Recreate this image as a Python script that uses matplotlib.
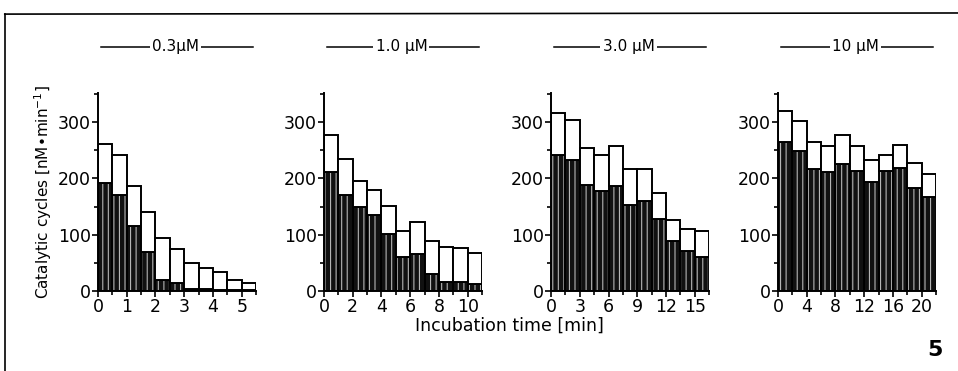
import numpy as np
import matplotlib.pyplot as plt
from matplotlib.lines import Line2D
from matplotlib.ticker import MultipleLocator

plt.rcParams["font.family"] = ["DejaVu Sans"]
plt.rcParams["hatch.linewidth"] = 0.8

# ---------------------------------------------------------------------------
# Data (catalytic cycles, nM/min)
# ---------------------------------------------------------------------------
conc_labels = ["0.3µM", "1.0 µM", "3.0 µM", "10 µM"]
bin_width = [0.5, 1.0, 1.5, 2.0]          # minutes per bar
major_step = [1, 2, 3, 4]

total_03 = [261, 242, 187, 141, 95, 74, 49, 40, 34, 19, 14]
dark_03 = [192, 171, 116, 70, 19, 15, 4, 3, 2, 2, 2]

total_10 = [277, 235, 196, 180, 151, 107, 123, 89, 79, 76, 68]
dark_10 = [211, 170, 149, 135, 101, 60, 65, 31, 16, 16, 12]

total_30 = [317, 303, 254, 242, 258, 217, 217, 174, 126, 110, 107]
dark_30 = [242, 232, 188, 177, 186, 152, 160, 128, 88, 71, 61]

total_100 = [320, 302, 264, 257, 277, 258, 232, 242, 259, 228, 208]
dark_100 = [265, 248, 216, 211, 226, 213, 193, 213, 218, 183, 167]

totals = [total_03, total_10, total_30, total_100]
darks = [dark_03, dark_10, dark_30, dark_100]

# ---------------------------------------------------------------------------
# Figure
# ---------------------------------------------------------------------------
fig = plt.figure(figsize=(9.58, 3.71), dpi=100)

lefts = [0.1023, 0.3382, 0.5752, 0.8121]
for i in range(4):
    ax = fig.add_axes([lefts[i], 0.2156, 0.165, 0.534])
    w = bin_width[i]
    tot = np.array(totals[i])
    dk = np.array(darks[i])
    x = np.arange(len(tot)) * w

    # dark hatched part
    ax.bar(x, dk, width=w, align="edge", color="#111111",
           edgecolor="#b5b5b5", hatch="|||", linewidth=0)
    ax.bar(x, dk, width=w, align="edge", fill=False,
           edgecolor="black", linewidth=1.3)
    # white upper box
    ax.bar(x, tot - dk, bottom=dk, width=w, align="edge", color="white",
           edgecolor="black", linewidth=1.4)

    ax.set_xlim(0, len(tot) * w)
    ax.set_ylim(0, 352)
    ax.spines["top"].set_visible(False)
    ax.spines["right"].set_visible(False)
    ax.spines["left"].set_linewidth(1.4)
    ax.spines["bottom"].set_linewidth(1.4)
    ax.yaxis.set_major_locator(MultipleLocator(100))
    ax.yaxis.set_minor_locator(MultipleLocator(50))
    ax.xaxis.set_major_locator(MultipleLocator(major_step[i]))
    ax.xaxis.set_minor_locator(MultipleLocator(w))
    ax.tick_params(which="both", direction="out", width=1.2, labelsize=12.5,
                   pad=1)
    ax.tick_params(which="major", length=4)
    ax.tick_params(which="minor", length=3)
    ax.set_facecolor("none")

    # concentration header: line with label in the middle
    ax.plot([0.02, 0.98], [1.232, 1.232], transform=ax.transAxes,
            color="black", linewidth=1.1, clip_on=False)
    ax.text(0.49, 1.232, conc_labels[i], transform=ax.transAxes,
            ha="center", va="center", fontsize=11,
            bbox=dict(facecolor="white", edgecolor="none", pad=1.5))

    if i == 0:
        ax.set_ylabel("Catalytic cycles [nM•min$^{-1}$]", fontsize=11,
                      labelpad=3)

fig.text(0.532, 0.121, "Incubation time [min]", ha="center", va="center",
         fontsize=12.5)
fig.text(0.976, 0.057, "5", ha="center", va="center", fontsize=16,
         fontweight="bold")

# frame lines of the original plate
fig.add_artist(Line2D([0.005, 0.005], [0.0, 0.962], color="black",
                      linewidth=1.2))
fig.add_artist(Line2D([0.005, 1.0], [0.962, 0.965], color="black",
                      linewidth=1.2))

fig.savefig("out.png", dpi=100)
